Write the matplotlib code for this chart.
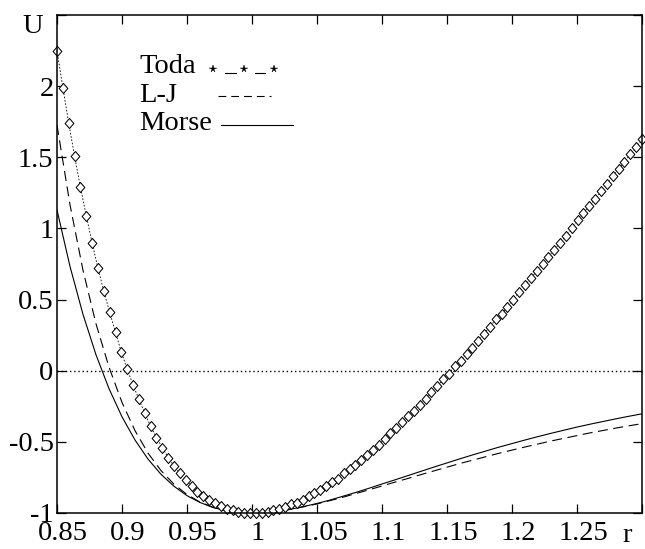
import matplotlib
matplotlib.use("Agg")
import matplotlib.pyplot as plt
import matplotlib.transforms as mtransforms
from matplotlib.path import Path

plt.rcParams["font.family"] = ["Liberation Serif", "DejaVu Serif"]
plt.rcParams["axes.unicode_minus"] = False

# Toda: diamonds every 0.0045 from r = 0.85 to 1.30
toda_r0, toda_dr = 0.85, 0.0045
toda_u = [2.25, 1.99, 1.74, 1.51, 1.29, 1.09, 0.90, 0.72, 0.56, 0.41,
          0.27, 0.13, 0.01, -0.10, -0.20, -0.30, -0.39, -0.47, -0.54, -0.61,
          -0.67, -0.72, -0.77, -0.81, -0.85, -0.88, -0.91, -0.93, -0.95, -0.97,
          -0.98, -0.99, -1.00, -1.00, -1.00, -1.00, -0.99, -0.98, -0.97, -0.96,
          -0.94, -0.93, -0.91, -0.88, -0.86, -0.84, -0.81, -0.78, -0.76, -0.72,
          -0.69, -0.66, -0.63, -0.59, -0.56, -0.52, -0.48, -0.44, -0.40, -0.36,
          -0.32, -0.28, -0.24, -0.20, -0.15, -0.11, -0.06, -0.02, 0.03, 0.07,
          0.12, 0.16, 0.21, 0.26, 0.31, 0.36, 0.40, 0.45, 0.50, 0.55,
          0.60, 0.65, 0.70, 0.75, 0.80, 0.85, 0.90, 0.95, 1.00, 1.06,
          1.11, 1.16, 1.21, 1.26, 1.31, 1.37, 1.42, 1.47, 1.52, 1.57,
          1.63]
toda_r = [toda_r0 + i * toda_dr for i in range(len(toda_u))]

# L-J and Morse: every 0.01 from r = 0.85 to 1.30
r = [0.85, 0.86, 0.87, 0.88, 0.89, 0.90, 0.91, 0.92, 0.93, 0.94,
     0.95, 0.96, 0.97, 0.98, 0.99, 1.00, 1.01, 1.02, 1.03, 1.04,
     1.05, 1.06, 1.07, 1.08, 1.09, 1.10, 1.11, 1.12, 1.13, 1.14,
     1.15, 1.16, 1.17, 1.18, 1.19, 1.20, 1.21, 1.22, 1.23, 1.24,
     1.25, 1.26, 1.27, 1.28, 1.29, 1.30]
lj_u = [1.727, 1.166, 0.706, 0.330, 0.025, -0.223, -0.421, -0.579, -0.702, -0.798,
        -0.870, -0.923, -0.960, -0.983, -0.996, -1.000, -0.997, -0.987, -0.974, -0.956,
        -0.936, -0.913, -0.889, -0.863, -0.837, -0.810, -0.783, -0.757, -0.730, -0.704,
        -0.678, -0.652, -0.628, -0.604, -0.580, -0.558, -0.536, -0.515, -0.494, -0.475,
        -0.456, -0.437, -0.420, -0.403, -0.387, -0.372]
morse_u = [1.130, 0.733, 0.396, 0.112, -0.126, -0.324, -0.487, -0.621, -0.728, -0.812,
           -0.878, -0.926, -0.961, -0.984, -0.996, -1.000, -0.997, -0.987, -0.973, -0.954,
           -0.933, -0.909, -0.882, -0.855, -0.826, -0.796, -0.767, -0.737, -0.707, -0.677,
           -0.648, -0.619, -0.591, -0.564, -0.537, -0.512, -0.487, -0.463, -0.440, -0.418,
           -0.396, -0.376, -0.357, -0.338, -0.320, -0.303]

xticks = [0.85, 0.9, 0.95, 1.0, 1.05, 1.1, 1.15, 1.2, 1.25, 1.3]
xlabels = ["0.85", "0.9", "0.95", "1", "1.05", "1.1", "1.15", "1.2", "1.25", ""]
yticks = [-1, -0.5, 0, 0.5, 1, 1.5, 2, 2.5]
ylabels = ["-1", "-0.5", "0", "0.5", "1", "1.5", "2", ""]

FS = 20.5
W, H = 645, 549
L, T, R, B = 57, 15, 642, 513

fig = plt.figure(figsize=(W / 100, H / 100), dpi=100)
ax = fig.add_axes([L / W, 1 - B / H, (R - L) / W, (B - T) / H])

def px(x, y):
    # pixel position (from top-left of the figure) -> axes fraction
    return (x - L) / (R - L), (B - y) / (B - T)

# slightly tall open diamond
diamond = Path([(0, 1.15), (1, 0), (0, -1.15), (-1, 0), (0, 1.15)],
               [Path.MOVETO, Path.LINETO, Path.LINETO, Path.LINETO, Path.CLOSEPOLY])

ax.axhline(0, color="k", lw=1.0, ls=(0, (1, 2)))
ax.plot(r, morse_u, color="k", lw=0.8)
ax.plot(r, lj_u, color="k", lw=0.8, ls=(0, (9, 5)))
ax.plot(toda_r, toda_u, color="k", lw=0.6, ls=(0, (2, 2)),
        marker=diamond, ms=7.2, mfc="white", mec="k", mew=0.75, clip_on=False)

ax.set_xlim(0.85, 1.3)
ax.set_ylim(-1, 2.5)
ax.set_xticks(xticks)
ax.set_xticklabels(xlabels)
ax.set_yticks(yticks)
ax.set_yticklabels(ylabels)
ax.tick_params(direction="in", length=6.5, width=0.9, labelsize=FS,
               top=True, right=True)
ax.tick_params(axis="x", pad=6)
ax.tick_params(axis="y", pad=2.5)
shift = mtransforms.ScaledTranslation(6 / 72 * 0.72, 0, fig.dpi_scale_trans)
for lab in ax.get_xticklabels():
    lab.set_transform(lab.get_transform() + shift)
for s in ax.spines.values():
    s.set_linewidth(1.1)

# axis names in the tick-label rows
ax.text(*px(627, 535), "r", transform=ax.transAxes, ha="center",
        va="center", fontsize=FS)
ax.text(*px(43, 33), "U", transform=ax.transAxes, ha="right",
        va="baseline", fontsize=FS)

# key: label on the left, sample on the right
for name, yb in [("Toda", 73), ("L-J", 102), ("Morse", 130)]:
    ax.text(*px(139, yb), name, transform=ax.transAxes, ha="left",
            va="baseline", fontsize=FS)
sx, sy = zip(*[px(213, 69), px(244, 69), px(274, 69)])
ax.plot(sx, sy, ls="none", marker="*", ms=5.5, mew=0.3, color="k",
        transform=ax.transAxes)
for x0, x1 in [(225, 236), (255, 265)]:
    (a, b), (c, d) = px(x0, 73), px(x1, 73)
    ax.plot([a, c], [b, d], color="k", lw=0.8, transform=ax.transAxes)
(a, b), (c, d) = px(218, 96), px(271, 96)
ax.plot([a, c], [b, d], color="k", lw=0.8, ls=(0, (7, 4.5)), transform=ax.transAxes)
(a, b), (c, d) = px(221, 125), px(293, 125)
ax.plot([a, c], [b, d], color="k", lw=0.8, transform=ax.transAxes)

fig.savefig("out.png", dpi=100)
